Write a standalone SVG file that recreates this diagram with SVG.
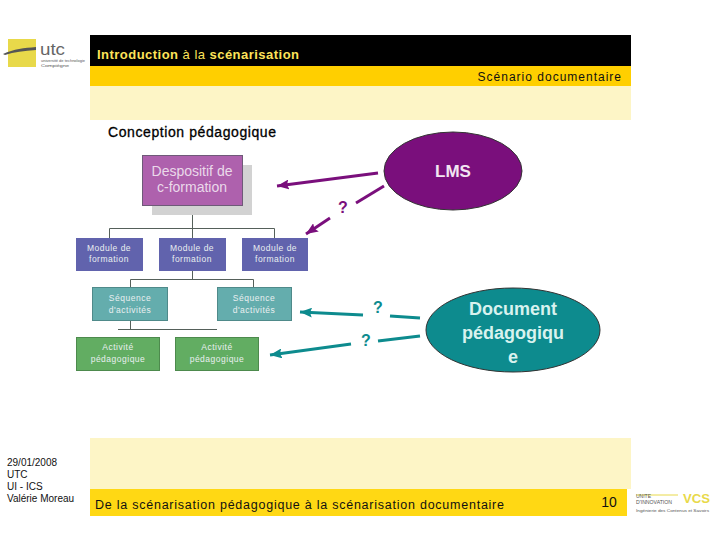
<svg xmlns="http://www.w3.org/2000/svg" width="720" height="540" viewBox="0 0 720 540">
<style>
text{font-family:"Liberation Sans",Arial,sans-serif}
.m{fill:#e9eff0;font-size:8.500px;text-anchor:middle;letter-spacing:.5px}
.l{fill:none;stroke:#55605a;stroke-width:1}
.p{fill:none;stroke:#7a0f7c;stroke-width:3}
.t{fill:none;stroke:#0d8b8e;stroke-width:3}
.q{font-size:16px;font-weight:bold;text-anchor:middle}
.e{font-size:18px;font-weight:bold;text-anchor:middle;fill:#d8f2ee}
.f{font-size:10px;fill:#111}
</style>
<defs>
<marker id="ap" markerUnits="userSpaceOnUse" markerWidth="12" markerHeight="10" refX="12" refY="5" orient="auto"><path d="M0 0L12 5L0 10L2 5Z" fill="#7a0f7c"/></marker>
<marker id="at" markerUnits="userSpaceOnUse" markerWidth="12" markerHeight="10" refX="12" refY="5" orient="auto"><path d="M0 0L12 5L0 10L2 5Z" fill="#0d8b8e"/></marker>
</defs>
<rect width="720" height="540" fill="#fff"/>
<g id="bands">
<rect x="90" y="35" width="541" height="31" fill="#000"/>
<rect x="90" y="66" width="541" height="20" fill="#ffcf00"/>
<rect x="90" y="86" width="541" height="34" fill="#fdf5c6"/>
<rect x="90" y="438" width="541" height="51" fill="#fdf5c6"/>
<rect x="90" y="489" width="537" height="27" fill="#ffd814"/>
</g>
<g id="logo-utc">
<rect x="8" y="39" width="28" height="28" fill="#e8d94a"/>
<path d="M3 54C14 49 24 48 36 47L36 50C24 51 14 52 5 55Z" fill="#555"/>
<text x="40" y="55" font-size="17" fill="#666" textLength="25" lengthAdjust="spacingAndGlyphs">utc</text>
<text x="41" y="62" font-size="3.500" fill="#555" textLength="44" lengthAdjust="spacingAndGlyphs">université de technologie</text>
<text x="41" y="67" font-size="3.500" fill="#555" textLength="28" lengthAdjust="spacingAndGlyphs">Compiègne</text>
</g>
<text x="97" y="59" font-size="13" fill="#fde35a" textLength="202" lengthAdjust="spacing"><tspan font-weight="bold">Introduction</tspan> à la <tspan font-weight="bold">scénarisation</tspan></text>
<text x="622" y="81" font-size="12" fill="#111" text-anchor="end" letter-spacing="1">Scénario documentaire</text>
<text x="108" y="137" font-size="14" fill="#000" stroke="#000" stroke-width=".3" textLength="168" lengthAdjust="spacing">Conception pédagogique</text>
<g id="connectors">
<path class="l" d="M192.500 206V238M109.500 238V228.500H274.500V238M192.500 271V279.500M130.500 287V279.500H253.500V287M130.500 321V329.500M118 329.500H217"/>
<path class="p" marker-end="url(#ap)" d="M378 173L277 186"/>
<path class="p" d="M384 186L356 203"/>
<path class="p" marker-end="url(#ap)" d="M330 218L306 234"/>
<path class="t" d="M420 318L390 316"/>
<path class="t" marker-end="url(#at)" d="M363 315L300 312"/>
<path class="t" d="M420 336L378 341"/>
<path class="t" marker-end="url(#at)" d="M351 344L270 355"/>
</g>
<g id="node-dispositif">
<rect x="152" y="165" width="100" height="50" fill="#d2d2d2"/>
<rect x="142.500" y="155.500" width="100" height="50" fill="#ae61ad" stroke="#6e5a78"/>
<text x="192" y="176" font-size="14" fill="#ead9ea" text-anchor="middle">Despositif de</text>
<text x="192" y="192" font-size="14" fill="#ead9ea" text-anchor="middle">c-formation</text>
</g>
<g id="node-module1"><rect x="76" y="238" width="67" height="33" fill="#6163ad"/><text class="m" x="109" y="251">Module de</text><text class="m" x="109" y="262">formation</text></g>
<g id="node-module2"><rect x="159" y="238" width="67" height="33" fill="#6163ad"/><text class="m" x="192" y="251">Module de</text><text class="m" x="192" y="262">formation</text></g>
<g id="node-module3"><rect x="242" y="238" width="66" height="33" fill="#6163ad"/><text class="m" x="275" y="251">Module de</text><text class="m" x="275" y="262">formation</text></g>
<g id="node-seq1"><rect x="92.500" y="287.500" width="75" height="33" fill="#64adad" stroke="#4f8a8a"/><text class="m" x="130" y="301">Séquence</text><text class="m" x="130" y="313">d'activités</text></g>
<g id="node-seq2"><rect x="217.500" y="287.500" width="74" height="33" fill="#64adad" stroke="#4f8a8a"/><text class="m" x="254" y="301">Séquence</text><text class="m" x="254" y="313">d'activités</text></g>
<g id="node-act1"><rect x="76.500" y="337.500" width="83" height="33" fill="#62ad62" stroke="#4d8a4d"/><text class="m" x="118" y="350">Activité</text><text class="m" x="118" y="362">pédagogique</text></g>
<g id="node-act2"><rect x="175.500" y="337.500" width="83" height="33" fill="#62ad62" stroke="#4d8a4d"/><text class="m" x="217" y="350">Activité</text><text class="m" x="217" y="362">pédagogique</text></g>
<g id="node-lms">
<ellipse cx="453" cy="171" rx="69" ry="39" fill="#7a0f7c" stroke="#333"/>
<text x="453" y="177" font-size="17" font-weight="bold" fill="#f2e6f2" text-anchor="middle">LMS</text>
</g>
<g id="node-document">
<ellipse cx="513" cy="330" rx="87" ry="42" fill="#0d8b8e" stroke="#333"/>
<text class="e" x="513" y="315">Document</text>
<text class="e" x="513" y="339">pédagogiqu</text>
<text class="e" x="513" y="363">e</text>
</g>
<text class="q" x="343" y="213" fill="#7a0f7c">?</text>
<text class="q" x="378" y="313" fill="#0d8b8e">?</text>
<text class="q" x="366" y="346" fill="#0d8b8e">?</text>
<text class="f" x="7" y="466">29/01/2008</text>
<text class="f" x="7" y="478">UTC</text>
<text class="f" x="7" y="490">UI - ICS</text>
<text class="f" x="7" y="502">Valérie Moreau</text>
<text x="95" y="509" font-size="12.500" fill="#111" textLength="409" lengthAdjust="spacing">De la scénarisation pédagogique à la scénarisation documentaire</text>
<text x="609" y="507" font-size="14" fill="#111" text-anchor="middle">10</text>
<g id="logo-vcs">
<path d="M636 495H678" stroke="#e8d94a" stroke-width="1" fill="none"/>
<text x="636" y="498" font-size="5" fill="#555">UNITE</text>
<text x="636" y="503.500" font-size="5" fill="#555" textLength="36" lengthAdjust="spacingAndGlyphs">D'INNOVATION</text>
<text x="683" y="503" font-size="13" font-weight="bold" fill="#e8d94a" textLength="27" lengthAdjust="spacingAndGlyphs">VCS</text>
<text x="636" y="512" font-size="4" fill="#555" textLength="73" lengthAdjust="spacingAndGlyphs">Ingénierie des Contenus et Savoirs</text>
</g>
</svg>
